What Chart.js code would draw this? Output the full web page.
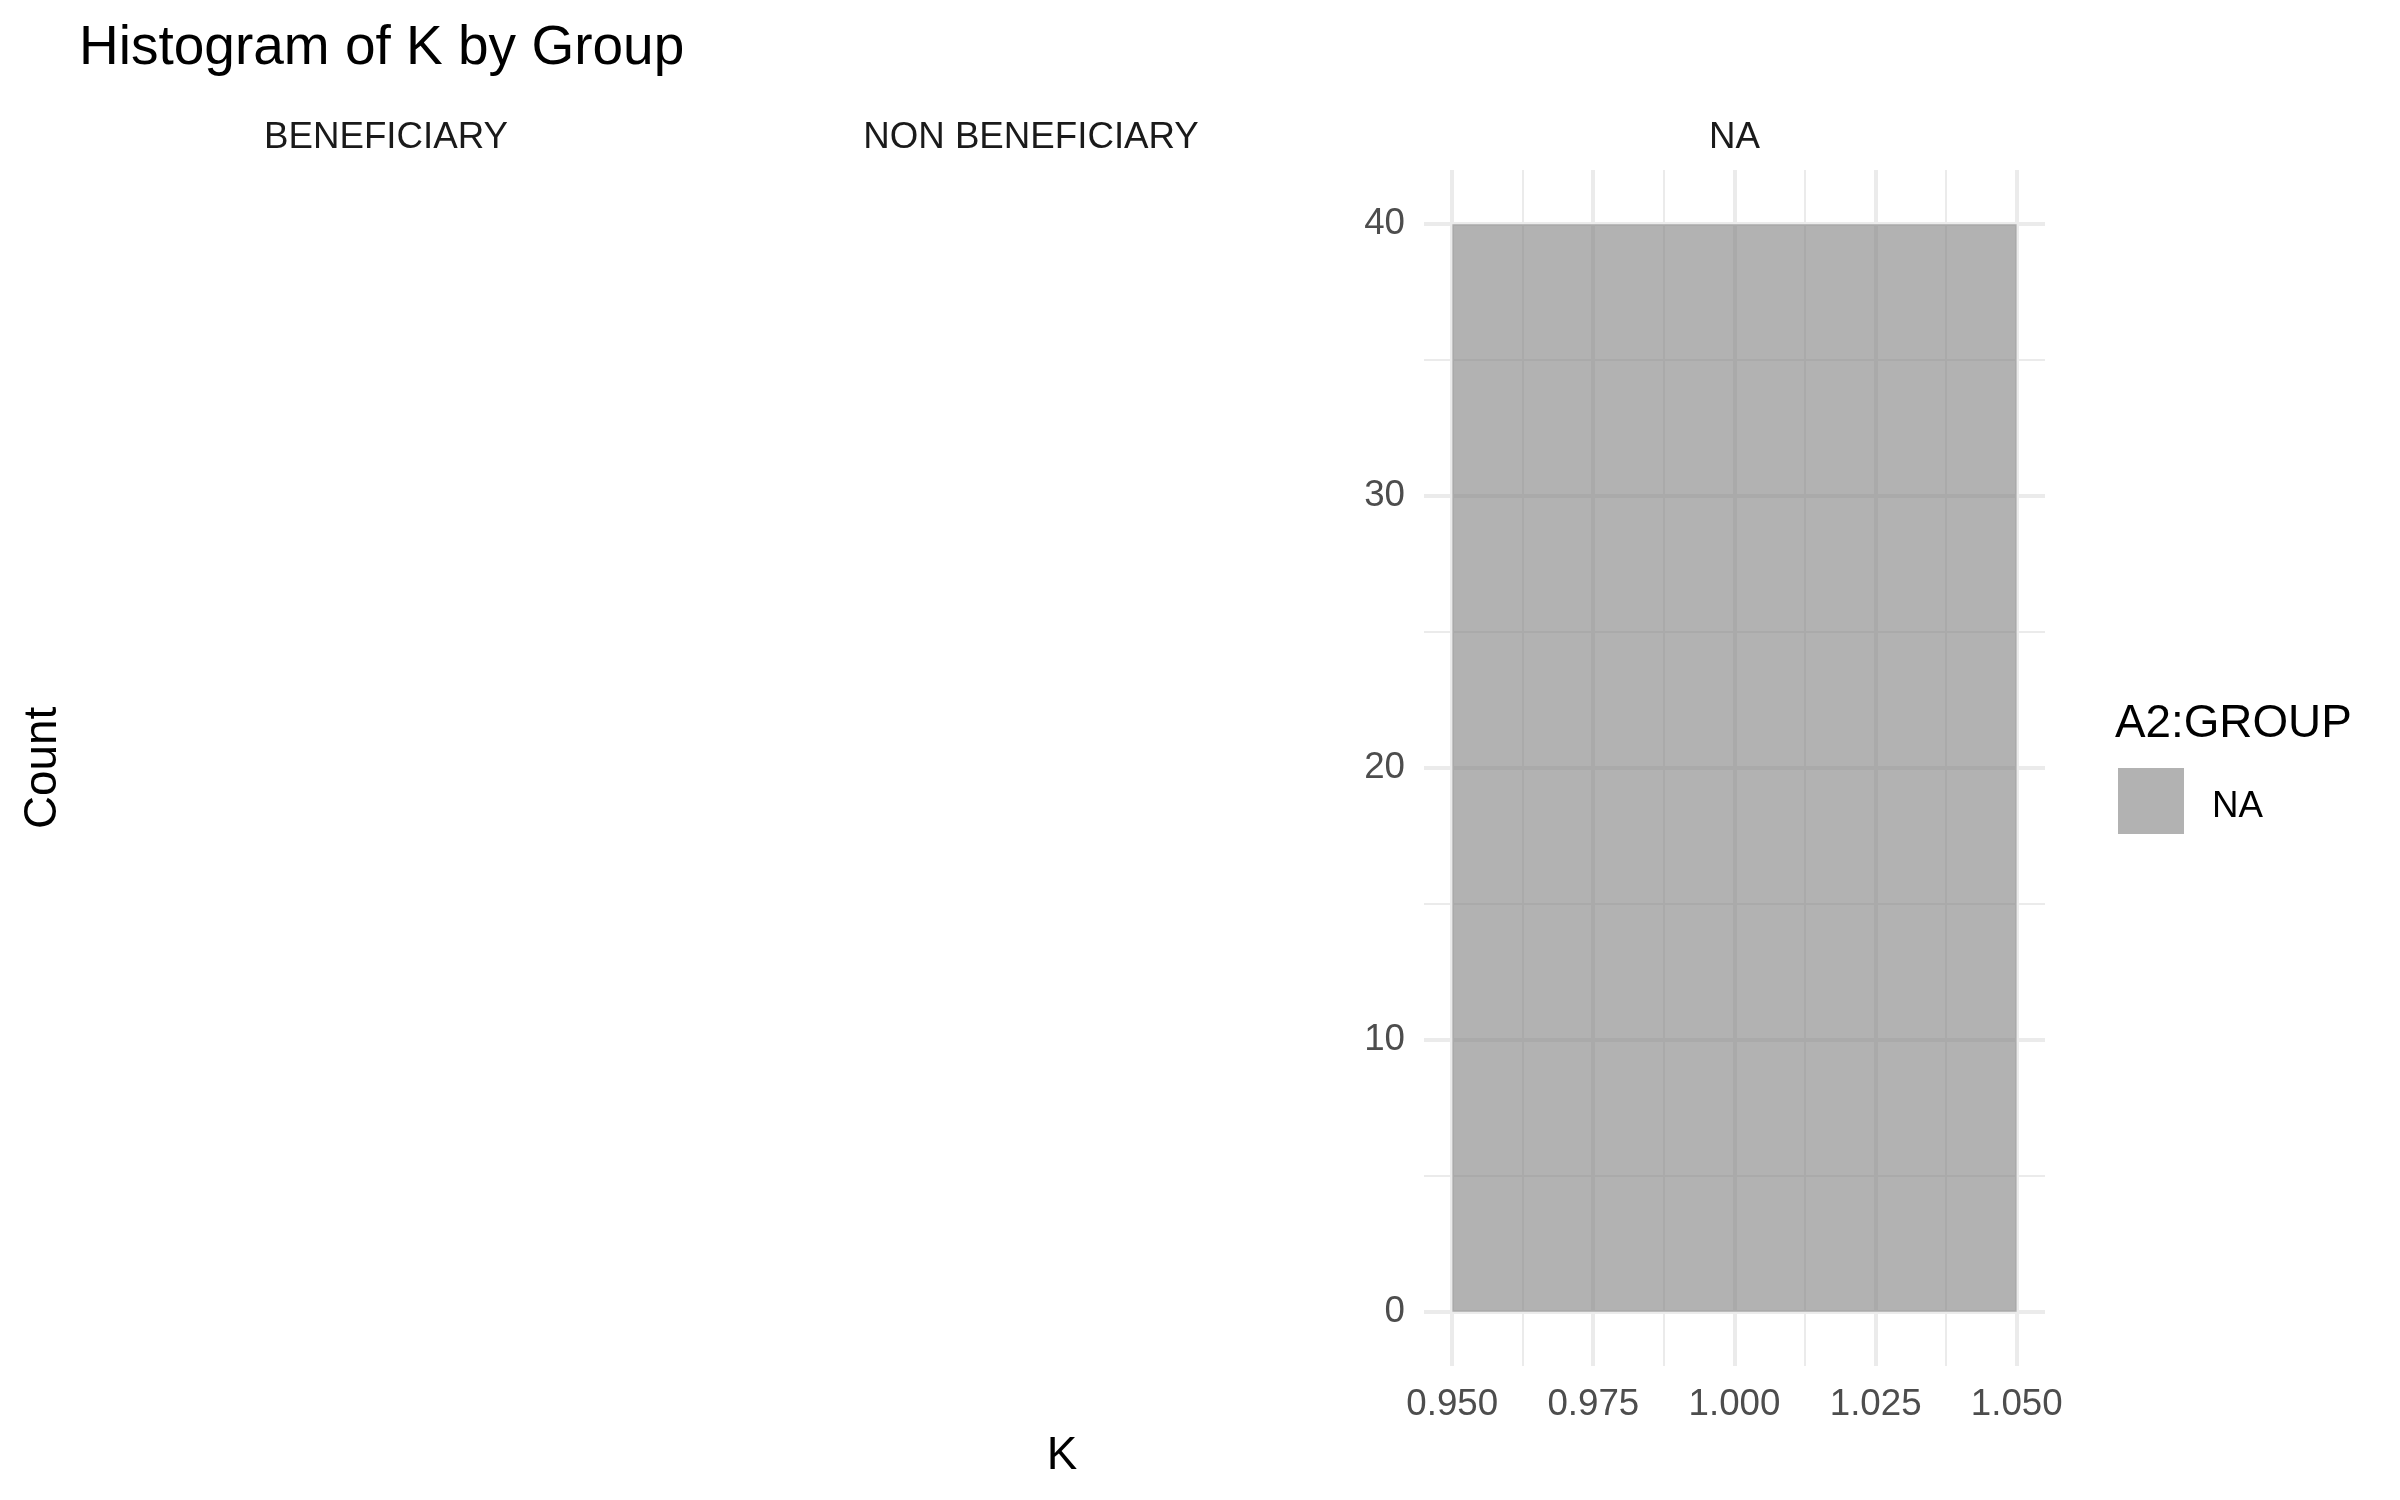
<!DOCTYPE html>
<html lang="en">
<head>
    <meta charset="UTF-8">
    <title>Histogram of K by Group</title>
    <script src="https://cdn.jsdelivr.net/npm/chart.js@4.4.1/dist/chart.umd.min.js"></script>
    <style>
        body { margin: 0; background: #ffffff; }
        #histo { display: block; }
    </style>
</head>
<body>
<canvas id="histo" width="2400" height="1500"></canvas>

<script>
    // donnees
    const facetNames = ['BENEFICIARY', 'NON BENEFICIARY', 'NA'];
    const binEdges = [0.95, 1.05];
    const binCounts = [40];
    const xMajorTicks = [0.950, 0.975, 1.000, 1.025, 1.050];
    const xMinorTicks = [0.9625, 0.9875, 1.0125, 1.0375];
    const yMajorTicks = [0, 10, 20, 30, 40];
    const yMinorTicks = [5, 15, 25, 35];
    const legendTitle = 'A2:GROUP';
    const legendLabels = ['NA'];

    const fontFamily = '"Liberation Sans", Arial, sans-serif';
    const barFill = 'rgba(127,127,127,0.6)';

    Chart.defaults.font.family = fontFamily;

    // points du contour de l'histogramme (un palier par classe)
    let histoPoints = [];
    binCounts.forEach((n, i) => {
        histoPoints.push({x: binEdges[i], y: n});
        histoPoints.push({x: binEdges[i + 1], y: n});
    });

    let allX = xMajorTicks.concat(xMinorTicks).sort((a, b) => a - b);
    let allY = yMajorTicks.concat(yMinorTicks).sort((a, b) => a - b);

    let isMajor = (list, v) => list.some(m => Math.abs(m - v) < 1e-9);

    // titres, bandeaux des facettes, titres d'axes et legende
    const decor = {
        id: 'decor',
        afterDraw(chart) {
            const ctx = chart.ctx;
            ctx.save();
            ctx.textBaseline = 'alphabetic';

            ctx.fillStyle = '#000000';
            ctx.font = '55px ' + fontFamily;
            ctx.textAlign = 'left';
            ctx.fillText('Histogram of K by Group', 79, 64);

            ctx.fillStyle = '#1A1A1A';
            ctx.font = '36.7px ' + fontFamily;
            ctx.textAlign = 'center';
            const stripX = [386, 1031, (chart.chartArea.left + chart.chartArea.right) / 2];
            facetNames.forEach((name, i) => ctx.fillText(name, stripX[i], 148));

            ctx.fillStyle = '#000000';
            ctx.font = '45.8px ' + fontFamily;
            ctx.fillText('K', 1062, 1469);

            ctx.save();
            ctx.translate(56, (chart.chartArea.top + chart.chartArea.bottom) / 2);
            ctx.rotate(-Math.PI / 2);
            ctx.fillText('Count', 0, 0);
            ctx.restore();

            ctx.textAlign = 'left';
            ctx.fillText(legendTitle, 2115, 737);

            ctx.fillStyle = barFill;
            ctx.fillRect(2118, 768, 66, 66);
            ctx.fillStyle = '#000000';
            ctx.font = '36.7px ' + fontFamily;
            ctx.fillText(legendLabels[0], 2212, 817);
            ctx.restore();
        }
    };

    let gridColor = '#EBEBEB';

    let content = document.querySelector('#histo').getContext('2d');
    let histo = new Chart(content, {
        type: 'line',
        data: {
            datasets: [{
                label: 'NA',
                data: histoPoints,
                backgroundColor: barFill,
                borderWidth: 0,
                pointRadius: 0,
                fill: 'origin',
                tension: 0
            }]
        },
        options: {
            responsive: false,
            devicePixelRatio: 1,
            animation: false,
            layout: {padding: {left: 1360, right: 355, top: 170, bottom: 54}},
            plugins: {legend: {display: false}, title: {display: false}, tooltip: {enabled: false}},
            scales: {
                x: {
                    type: 'linear',
                    min: 0.945,
                    max: 1.055,
                    afterBuildTicks: s => { s.ticks = allX.map(v => ({value: v})); },
                    afterFit: s => { s.height = 80; },
                    border: {display: false},
                    grid: {
                        drawTicks: false,
                        color: gridColor,
                        lineWidth: c => isMajor(xMajorTicks, c.tick.value) ? 4 : 2
                    },
                    ticks: {
                        autoSkip: false,
                        maxRotation: 0,
                        padding: 17,
                        color: '#4D4D4D',
                        font: {size: 36.7},
                        callback: v => isMajor(xMajorTicks, v) ? v.toFixed(3) : ''
                    }
                },
                y: {
                    min: -2,
                    max: 42,
                    afterBuildTicks: s => { s.ticks = allY.map(v => ({value: v})); },
                    afterFit: s => { s.width = 64; },
                    border: {display: false},
                    grid: {
                        drawTicks: false,
                        color: gridColor,
                        lineWidth: c => isMajor(yMajorTicks, c.tick.value) ? 4 : 2
                    },
                    ticks: {
                        autoSkip: false,
                        padding: 19,
                        color: '#4D4D4D',
                        font: {size: 36.7},
                        callback: v => isMajor(yMajorTicks, v) ? String(v) : ''
                    }
                }
            }
        },
        plugins: [decor]
    });
</script>
</body>
</html>
